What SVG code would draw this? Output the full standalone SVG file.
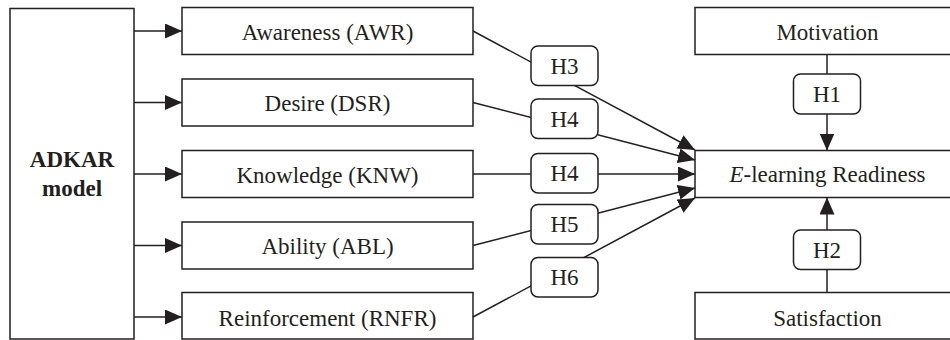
<svg xmlns="http://www.w3.org/2000/svg" width="950" height="340" viewBox="0 0 950 340">
  <style>
    .box { fill: #ffffff; stroke: #231f20; stroke-width: 1.5; }
    .hyp { fill: #ffffff; stroke: #231f20; stroke-width: 1.5; }
    .lbl { font-family: "Liberation Serif", "DejaVu Serif", serif; font-size: 23px; fill: #231f20; text-anchor: middle; }
    .bold { font-weight: bold; }
    .conn { stroke: #231f20; stroke-width: 1.5; fill: none; }
    .arr { marker-end: url(#ah); }
  </style>
  <defs>
    <marker id="ah" markerUnits="userSpaceOnUse" markerWidth="18" markerHeight="16" refX="17" refY="7.5" orient="auto" viewBox="0 0 18 16">
      <path d="M0,0 L17,7.5 L0,15 Z" fill="#231f20"/>
    </marker>
  </defs>
  <rect width="950" height="340" fill="#ffffff"/>

  <g id="connectors">
    <line class="conn arr" x1="134" y1="31" x2="182" y2="31"/>
    <line class="conn arr" x1="134" y1="102.5" x2="182" y2="102.5"/>
    <line class="conn arr" x1="134" y1="174" x2="182" y2="174"/>
    <line class="conn arr" x1="134" y1="245.5" x2="182" y2="245.5"/>
    <line class="conn arr" x1="134" y1="317" x2="182" y2="317"/>

    <line class="conn arr" x1="473" y1="31" x2="695" y2="150"/>
    <line class="conn arr" x1="473" y1="102.5" x2="695" y2="160"/>
    <line class="conn arr" x1="473" y1="174" x2="695" y2="174"/>
    <line class="conn arr" x1="473" y1="245.5" x2="695" y2="188"/>
    <line class="conn arr" x1="473" y1="317" x2="695" y2="198"/>

    <line class="conn arr" x1="827" y1="54.5" x2="827" y2="150.5"/>
    <line class="conn arr" x1="827" y1="292.5" x2="827" y2="197.5"/>
  </g>

  <g id="adkar">
    <rect class="box" x="10" y="8.5" width="124" height="330.5"/>
    <text class="lbl bold" x="72" y="167">ADKAR</text>
    <text class="lbl bold" x="72" y="196">model</text>
  </g>

  <g id="awareness">
    <rect class="box" x="182" y="7.5" width="291" height="47"/>
    <text class="lbl" x="327.5" y="39.5">Awareness (AWR)</text>
  </g>
  <g id="desire">
    <rect class="box" x="182" y="79" width="291" height="47"/>
    <text class="lbl" x="327.5" y="111">Desire (DSR)</text>
  </g>
  <g id="knowledge">
    <rect class="box" x="182" y="150.5" width="291" height="47"/>
    <text class="lbl" x="327.5" y="182.5">Knowledge (KNW)</text>
  </g>
  <g id="ability">
    <rect class="box" x="182" y="222" width="291" height="47"/>
    <text class="lbl" x="327.5" y="254">Ability (ABL)</text>
  </g>
  <g id="reinforcement">
    <rect class="box" x="182" y="292.5" width="291" height="46.5"/>
    <text class="lbl" x="327.5" y="325.5">Reinforcement (RNFR)</text>
  </g>

  <g id="h3">
    <rect class="hyp" x="531" y="46" width="67" height="39.5" rx="7"/>
    <text class="lbl" x="564.5" y="73.5">H3</text>
  </g>
  <g id="h4a">
    <rect class="hyp" x="531" y="99" width="67" height="39.5" rx="7"/>
    <text class="lbl" x="564.5" y="126.5">H4</text>
  </g>
  <g id="h4b">
    <rect class="hyp" x="531" y="153.5" width="67" height="39.5" rx="7"/>
    <text class="lbl" x="564.5" y="181">H4</text>
  </g>
  <g id="h5">
    <rect class="hyp" x="531" y="204.5" width="67" height="39.5" rx="7"/>
    <text class="lbl" x="564.5" y="232">H5</text>
  </g>
  <g id="h6">
    <rect class="hyp" x="531" y="257.5" width="67" height="39.5" rx="7"/>
    <text class="lbl" x="564.5" y="285">H6</text>
  </g>

  <g id="motivation">
    <rect class="box" x="695" y="7.5" width="270" height="47"/>
    <text class="lbl" x="827.5" y="39.5">Motivation</text>
  </g>
  <g id="h1">
    <rect class="hyp" x="793.5" y="74" width="67" height="40" rx="7"/>
    <text class="lbl" x="827" y="102">H1</text>
  </g>
  <g id="elearning">
    <rect class="box" x="695" y="150.5" width="270" height="47"/>
    <text class="lbl" x="827.5" y="182"><tspan font-style="italic">E</tspan>-learning Readiness</text>
  </g>
  <g id="h2">
    <rect class="hyp" x="793.5" y="230" width="67" height="39.5" rx="7"/>
    <text class="lbl" x="827" y="258">H2</text>
  </g>
  <g id="satisfaction">
    <rect class="box" x="695" y="292.5" width="270" height="46.5"/>
    <text class="lbl" x="827.5" y="325.5">Satisfaction</text>
  </g>
</svg>
